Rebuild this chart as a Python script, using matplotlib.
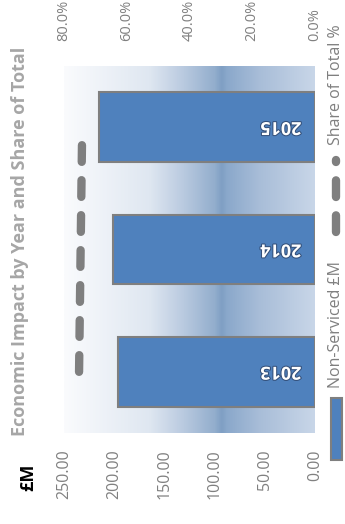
import numpy as np
import matplotlib.pyplot as plt
import matplotlib.patheffects as pe
from matplotlib.colors import LinearSegmentedColormap
from matplotlib.patches import Rectangle
from matplotlib.lines import Line2D

# chart is drawn turned a quarter turn: columns become horizontal bars
years = ["2013", "2014", "2015"]
non_serviced = [196, 201, 215]       # £M
share_pct = [75.2, 74.7, 74.2]       # % of total
gbp_ticks = [0, 50, 100, 150, 200, 250]
pct_ticks = [0, 20, 40, 60, 80]

plt.rcParams['font.family'] = ['Open Sans', 'DejaVu Sans']

W, H = 345, 524
fig = plt.figure(figsize=(W / 100, H / 100), dpi=100)

def fx(px):
    return px / W

def fy(py):
    return 1 - py / H

ax = fig.add_axes([fx(64), fy(433), fx(315) - fx(64), fy(66) - fy(433)])

# gradient plot area
stops = [(0.0, '#fafbfd'), (0.34, '#dfe7f1'), (0.48, '#b8c9df'), (0.60, '#93aecd'),
         (0.63, '#7f9fc4'), (0.65, '#8aa8cb'), (0.78, '#a8bdd8'), (1.0, '#c8d6e8')]
cmap = LinearSegmentedColormap.from_list('bg', stops)
grad = np.linspace(0, 1, 400).reshape(1, -1)
ax.imshow(grad, extent=[0, 1, 0, 1], transform=ax.transAxes, aspect='auto',
          cmap=cmap, zorder=0)

y = np.arange(len(years))
ax.barh(y, non_serviced, height=0.57, color='#4f81bd', edgecolor='#7f7f7f',
        linewidth=1.5, zorder=2)
for i, yr in enumerate(years):
    ax.text(34, y[i], yr, rotation=180, ha='center', va='center', color='white',
            fontweight='bold', fontsize=13, zorder=3,
            path_effects=[pe.withStroke(linewidth=1.5, foreground='#34507a')])

ax.set_xlim(250, 0)
ax.set_ylim(-0.5, 2.5)
ax.set_xticks(gbp_ticks)
ax.set_xticklabels([f"{v:.2f}" for v in gbp_ticks], rotation=90, color='#808080',
                   fontsize=11.5)
ax.tick_params(axis='x', length=0, pad=12)
ax.set_yticks([])
for s in ax.spines.values():
    s.set_visible(False)

ax2 = ax.twiny()
ax2.plot(share_pct, y, color='#7f7f7f', lw=6, dashes=(2, 2.2),
         dash_capstyle='round', solid_capstyle='round')
ax2.set_xlim(80, 0)
ax2.set_xticks(pct_ticks)
ax2.set_xticklabels([f"{v:.1f}%" for v in pct_ticks], rotation=90, color='#808080',
                    fontsize=10.5)
ax2.tick_params(axis='x', length=0, pad=18)
for s in ax2.spines.values():
    s.set_visible(False)
ax2.set_ylim(-0.5, 2.5)

# title and axis unit
fig.text(fx(20), fy(241), "Economic Impact by Year and Share of Total", rotation=90,
         ha='center', va='center', color='#a6a6a6', fontweight='bold', fontsize=13)
fig.text(fx(28), fy(477), "£M", rotation=90, ha='center', va='center',
         color='black', fontweight='bold', fontsize=13)

# legend
fig.add_artist(Rectangle((fx(331), fy(460)), fx(342) - fx(331), fy(398) - fy(460),
                         transform=fig.transFigure, facecolor='#4f81bd',
                         edgecolor='#7f7f7f', linewidth=1.5))
fig.text(fx(336), fy(325), "Non-Serviced £M", rotation=90, ha='center', va='center',
         color='#7f7f7f', fontsize=11.5)
fig.add_artist(Line2D([fx(336), fx(336)], [fy(232), fy(160)], transform=fig.transFigure,
                      color='#7f7f7f', lw=6, dashes=(2, 2.2), dash_capstyle='round'))
fig.text(fx(336), fy(85), "Share of Total %", rotation=90, ha='center', va='center',
         color='#7f7f7f', fontsize=11.5)

fig.savefig('out.png', dpi=100)
